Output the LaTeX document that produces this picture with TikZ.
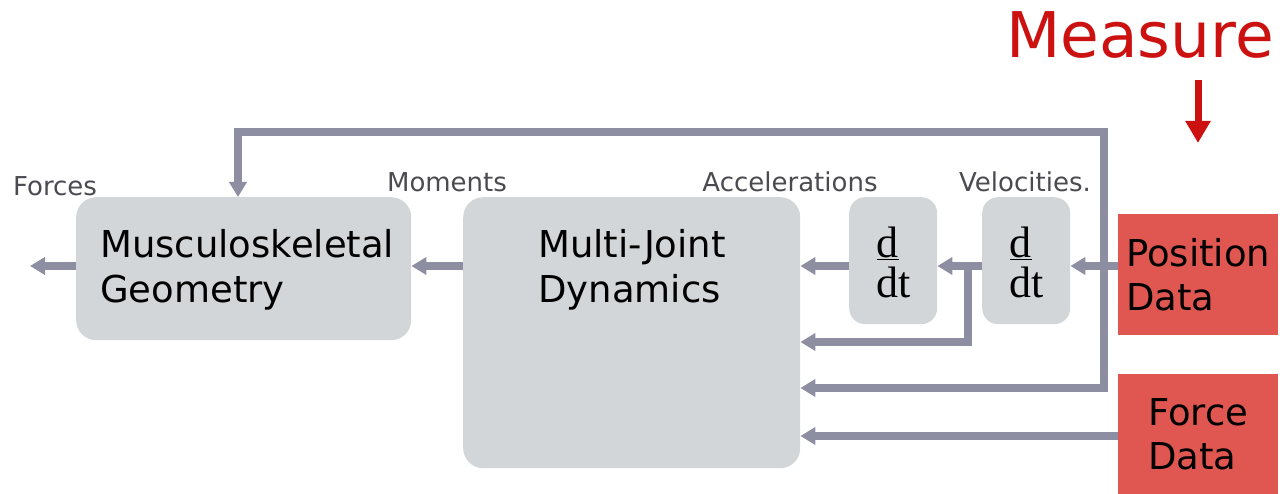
\documentclass[tikz,border=0pt]{standalone}
\usepackage{fontspec}
\setmainfont{DejaVu Sans}
\newfontfamily\seriffont{Liberation Serif}
\usetikzlibrary{arrows.meta}
\definecolor{boxgray}{HTML}{D3D6D9}
\definecolor{linegray}{HTML}{8E8EA2}
\definecolor{redbox}{HTML}{E05651}
\definecolor{measurered}{HTML}{CC1111}
\definecolor{labelgray}{HTML}{4A4A50}
\tikzset{
  gbox/.style={fill=boxgray, rounded corners=20pt, draw=none, inner sep=0pt},
  dbox/.style={fill=boxgray, rounded corners=16pt, draw=none, inner sep=0pt,
    minimum width=88pt, minimum height=127pt},
  rbox/.style={fill=redbox, draw=none, inner sep=0pt, minimum width=160pt,
    align=left, font=\fontsize{37}{44}\selectfont},
  boxtext/.style={align=left, inner sep=0pt, font=\fontsize{37}{45}\selectfont},
  lbl/.style={text=labelgray, inner sep=0pt, font=\fontsize{26}{30}\selectfont},
  flow/.style={draw=linegray, line width=7.5pt, line join=miter,
    -{Triangle[width=17pt,length=15pt]}},
  plainflow/.style={draw=linegray, line width=7.5pt, line join=miter, line cap=rect},
  ddt/.style={align=left, inner sep=0pt, font=\seriffont\fontsize{44}{44}\selectfont},
}
\begin{document}
\begin{tikzpicture}[x=1pt,y=-1pt]
\useasboundingbox (0,0) rectangle (1288,494);
% boxes
\node[gbox, anchor=north west, minimum width=335pt, minimum height=143pt] (msk) at (76,197) {};
\node[boxtext, anchor=west] (msktext) at (100,270) {Musculoskeletal\\Geometry};
\node[gbox, anchor=north west, minimum width=337pt, minimum height=271pt] (mj) at (463,197) {};
\node[boxtext, anchor=west] (mjtext) at (538,270) {Multi-Joint\\Dynamics};
\node[dbox, anchor=north west] (d1) at (849,197) {};
\node[ddt] (d1text) at (894,262) {\underline{d}\\[-4pt]dt};
\node[dbox, anchor=north west] (d2) at (982,197) {};
\node[ddt] (d2text) at (1027,262) {\underline{d}\\[-4pt]dt};
\node[rbox, anchor=north west, minimum height=121pt] (pos) at (1118,214) {Position\\Data};
\node[rbox, anchor=north west, minimum height=120pt] (force) at (1118,374) {Force\\Data};
% labels
\node[lbl] (lforces) at (55,186) {Forces};
\node[lbl] (lmoments) at (447,182) {Moments};
\node[lbl] (lacc) at (790,182) {Accelerations};
\node[lbl] (lvel) at (1025,182) {Velocities.};
\node[text=measurered, inner sep=0pt, font=\fontsize{63}{70}\selectfont] (measure) at (1140,35) {Measure};
% coordinates
\coordinate (outl) at (30,266);
\coordinate (jct) at (968,266);
\coordinate (jctb) at (968,342);
\coordinate (fbtop) at (1104,132);
\coordinate (fbbot) at (1104,388);
\coordinate (fbleft) at (238,132);
\coordinate (marrowtop) at (1198,80);
\coordinate (marrowtip) at (1198,143);
% connectors
\draw[flow] (msk.west |- outl) -- (outl);
\draw[flow] (mj.west |- outl) -- (msk.east |- outl);
\draw[flow] (d1.west |- outl) -- (mj.east |- outl);
\draw[flow] (d2.west |- outl) -- (d1.east |- outl);
\draw[flow] (pos.west |- outl) -- (d2.east |- outl);
\draw[plainflow] (jct) -- (jctb);
\draw[flow] (jctb) -- (mj.east |- jctb);
\draw[plainflow] (fbtop) -- (fbbot);
\draw[flow] (fbbot) -- (mj.east |- fbbot);
\draw[flow] (fbtop) -- (fbleft) -- (fbleft |- msk.north);
\draw[flow] (force.west |- 0,436) -- (mj.east |- 0,436);
\draw[draw=measurered, line width=7pt, -{Triangle[width=24pt,length=22pt]}] (marrowtop) -- (marrowtip);
\end{tikzpicture}
\end{document}
